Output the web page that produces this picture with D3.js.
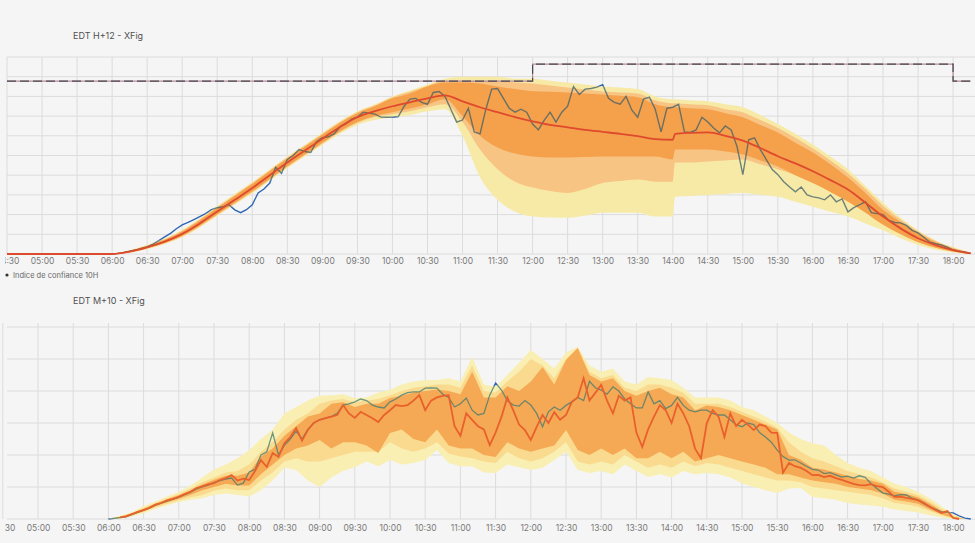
<!DOCTYPE html>
<html>
<head>
<meta charset="utf-8">
<script src="https://cdn.jsdelivr.net/npm/d3@7"></script>
<style>
  body { margin: 0; background: #f5f5f5; }
  svg { display: block; font-family: Inter, "Open Sans", sans-serif; }
</style>
</head>
<body>
<svg id="chart" width="975" height="543"></svg>
<script>
// ---- top panel : EDT H+12 ----
const topTimes = ["04:30","06:00","06:15","06:30","06:45","07:00","07:15","07:30","07:45","08:00","08:15","08:30","08:45",
  "09:00","09:15","09:30","09:45","10:00","10:15","10:30","10:45","11:00","11:15","11:30","11:45","12:00","12:15","12:30","12:45",
  "13:00","13:15","13:30","13:45","14:00","14:02","14:15","14:30","14:45","15:00","15:15","15:30","15:45","16:00","16:15","16:30",
  "16:45","17:00","17:15","17:30","17:45","18:00","18:15"];
const topMedian = [0, 0,1.2,3.4,6.3,10.2,15.5,21.6,27.5,33.5,40,46.5,52.5,58.5,64.5,69.5,72.5,75,77,79,80.5,77.5,74.5,72,69.5,67.3,65.5,64.3,63,62,61,59.8,58.3,
  58,61, 61.5,61.7,60,57.6,53.8,49.6,46,42,37.5,32.7,26,19,13,8,4.5,2,0.3];
const topP95 = [0, 0.3,2,4.7,7.9,12.3,18,24.4,30.5,36.5,43,49.5,55.5,61.5,67.5,72.5,76,80,83,86,89,90,90,90,89,89,88,87,86,85,84.5,83.7,80,
  78.6,78.6, 78,77.5,76,74.5,70.5,66,61,55.6,49.5,43,34.5,26,18.5,12,7,3.5,0.8];
const topP05 = [0, 0,0.6,2.4,5,8.5,13.5,19.3,25,30.8,37.2,43.5,49.5,55.3,61,65.5,68,69.4,70.5,72.4,73.5,60,39,27.5,21.4,19,18.5,18.4,19.5,21,21,21,19,
  19,29, 29.5,30,30.5,31,30,29,26.5,24,21.5,19,15.5,12,8,4.6,2.2,0.8,0];
const topP90 = [0, 0.2,1.8,4.3,7.5,11.8,17.5,23.9,30,36,42.5,49,55,61,67,72,75.5,79.6,82.4,85.4,88,88,88,88,87,86.5,85.5,84.5,83.5,82.5,82,81.5,78,
  76.5,76.5, 76,75.5,73.5,72,68,64,59,53.5,47.5,41,33,24.5,17.5,11.5,6.6,3.2,0.7];
const topP10 = [0, 0,0.8,2.8,5.4,8.9,14,19.8,25.5,31.3,37.7,44.1,50.1,56,61.8,66.5,69.5,71,72.5,74.5,76,67,53,43,36.7,33.7,32,31,33,36,37,37.8,36.7,
  36.7,46.4, 46.4,47,47.5,48,45.5,43,40,36,31.5,27,21.5,16,11,6.5,3.2,1.2,0.1];
const topP75 = [0, 0.1,1.6,4,7.2,11.4,17,23.4,29.5,35.5,42,48.5,54.5,60.5,66.5,71.5,75,79,81.5,85,87,87,86.5,85,83.7,82.6,82.3,82,81.5,81,80.3,79.6,76,
  74.5,74.5, 74,73.5,71.5,69.4,65.5,61.7,56.5,51.5,45.5,38.8,31,22.4,16.3,10.7,6,2.8,0.5];
const topP25 = [0, 0,0.9,3,5.6,9.3,14.4,20.2,26,31.8,38.2,44.5,50.5,56.5,62.3,67,70,72,73.8,76,78.6,70,60,54,51,49.5,49,49,49.2,49.5,49.5,49.5,49.5,
  48,53, 53,53,52,50.5,47.5,44.4,40,36,31.5,26.5,21,14.8,10,6,3.2,1.3,0.1];
// measured, every 5 minutes from 06:00
const topMeasured = [
  0,0.3,0.8,1.4,2,2.8,3.6,5,6.8,8.7,10.5,12.8,
  14.8,16,17.5,19,20.5,22.5,23.5,24,25,22.4,21,22.5,
  25,31,33,36,44,41,48,50,53,52,51.5,57,
  59,59.5,61,64.5,66,68.5,69.5,72,71.5,71,69.5,69.4,
  69.4,69.8,75,78.6,79,77,76,82,82.5,80,73.5,67,
  68,74,62,61,73.5,83.7,84,79,74,72,73.5,72,
  66,63,68,72,67,72,75,85,81,83.7,84,84.7,
  86,79,77,76,80,73,69.4,78.6,79.6,73.5,62,74,
  74.5,76,62,61.7,63,69.4,67,64,61.5,65,63,54.6,
  40.3,58,59,53,48,43,40.3,36.7,34,31.6,34,30,
  29,28.5,27.5,30,26.5,28,21.4,23.5,25,26.5,21,20.5,
  20,17,16,15.8,14.5,12,10.7,8.5,6,5.2,4.6,3.5,
  2,1.4,1,0.3];
const stepTimes = ["04:30","12:00","18:00","18:15"];
const stepValues = [87.8, 96.4, 87.8, 87.8];

// ---- bottom panel : EDT M+10 ----
const botForecast = [
  null,null,0.5,0.8,1.5,2.2,2.8,3.5,4.5,5,5.8,6.3,
  6.9,7.8,8.5,9.7,10.2,10.8,11.2,12.2,12.8,13.7,12,12.6,
  12.2,15,18.4,16.3,20.6,19.4,23.7,25.6,28.4,24.5,27.8,30,
  31,31.5,32,32.5,35.6,33,31.6,33.5,32.5,31.5,30.3,32.5,
  34,35.6,35.3,35.6,37,38.7,34,37,38,38.5,38.7,29,
  26,33,31,29,28,23.1,27,31.9,38,34,29.5,27.8,
  24.7,28.8,32.5,30,33.4,31,32.5,36.6,38,44,37,39.4,
  41.9,37,33,38.5,37,38,27,22.5,28,32,35.6,34,
  30,36,33,29,22,19,30,34,32,25.6,33,29,
  31,29.5,27.8,29.5,29,27,26.9,14.5,17.5,16.5,16,15,
  13.7,13.8,13.1,13.5,12.8,12.2,11.6,11,10.6,10.5,10.9,10.3,
  10,8.5,6.9,7,6.6,6.3,5.9,5,3.8,2.8,1.9,2.5,
  0.3,0,null,null];
const botMeasured = [
  0,0.2,0.4,0.7,1.4,2.1,2.8,3.4,4.3,5,5.6,6.2,
  6.8,7.6,8.4,9.4,10,10.6,11.4,12,12.5,12.8,10.6,11.2,
  14.7,15.5,20,21,26.9,20,23,25,27.5,25,28,30,
  31,31.5,32,33,35.6,36,36.6,37.5,37,35.6,35,34.7,
  36.6,37.5,38.7,39.5,39.7,39.7,40.9,41,40.9,39,38,35,
  36,37.8,34,32.5,33,38.7,42.5,40.3,37,35.6,35.3,37,
  35.6,33,28.8,33.5,35,34,35.5,36.6,38,37,43,41,
  40.3,39,41.3,40,37.5,36,34.7,34.7,39.7,36,37,34.5,
  35.5,38,35.5,34,33.5,34,34,33,32.5,32.5,31,29.5,
  28.8,30,29.5,27,25.6,24,21.5,19.5,18.4,18.5,17.5,16.5,
  15.5,15.3,14.2,14.5,13.8,13.1,13.4,12.8,13.5,13,11,9.5,
  8.1,7.8,7.2,7.6,7.5,6.5,5.9,4.8,3.8,3,2.2,2.1,
  1.9,1,0.3,0];
// bands, every 10 minutes from 06:00
const botP95 = [0,1,2.2,4,5.5,7, 8.5,10.5,13,15.5,17,19, 21.5,25,28,33,35,37, 38.5,38.7,39,37.8,38,39.5,
  40.3,42,43,43.4,43.4,44, 43,50.6,42,41.3,45,48.8, 52.8,50,47,52,53.8,48, 46,47,43,42,44.4,44,
  43.4,41,38,38,38,37, 35,34,32,30,27,25, 23.7,23,20,17.5,16,15, 13,11,10,8.5,6.5,4, 1.5,0];
const botP05 = [0,0,0.8,1.8,3.2,4.3, 5.3,6,6.5,7.5,8,7.5, 7,9,12,16,15.3,12, 10,13,15,16.2,18,16.5,
  18.4,17,17.5,18.4,21.6,17.5, 16.5,16.5,14.5,14.4,17,16.2, 15.3,16,18.4,21,15.3,14.4, 15,14,17,15,13.1,14,
  13,15,14,14.4,14,13, 11.2,10,9,8.1,9.5,9.7, 6.9,6.5,6,5,4.5,4.2, 3.8,3,2.5,2,1.2,0.5, 0,0];
const botP90 = [0,0.8,1.9,3.5,5,6.5, 7.8,9.5,11.5,13,14.5,15, 17,21,24,28,31,33, 36,37,37.5,36.5,37,37.5,
  38.7,40,41,41.5,42,42, 41,48,40,39.5,43,46, 50,48,44,50,53.5,46, 44,45,41,40,42,42,
  41,39.5,36,36,36,35, 33.5,32,30.5,28.5,24,21, 19,18,16.5,15,14,13, 11.5,9.5,8.5,7.5,5.5,3.2, 1,0];
const botP10 = [0,0.2,1.1,2.2,3.6,4.8, 5.8,6.8,7.5,8.8,9.5,9, 9,12,14.5,18,19,18, 18,19,20,21,21,21,
  24,22,21,22,24,20.5, 19.5,19,18,17.5,21,19, 18,19,21,24,18,17, 18,17,20,18,16,17,
  16,18,16.5,17.5,17,16, 15,14,13,12,12,11.5, 10,9.5,9,8.5,8,7.5, 6.5,5,4.5,3.8,2.5,1.2, 0.2,0];
const botP75 = [0,0.7,1.7,3.2,4.8,6.2, 7.4,9,10.8,12.3,13.5,13.5, 14.5,19.5,22,26,29,32, 33,36,36.5,35,36,36,
  37.8,38.5,39.5,40,40.5,40, 39,46,38,38,41.5,40, 43,47.5,42,49.7,53.4,45, 43,44,40,38.5,40,41,
  39,38,34,35.5,35,34, 32.5,31,29.5,28,20,18.5, 16,15.5,14.5,13.5,12.5,12, 11,8.5,7.8,6.8,4.8,2.6, 0.7,0];
const botP25 = [0,0.3,1.3,2.5,4,5.2, 6.3,7.6,9,10,11,10.5, 10.5,14,17,20,22,23, 24.7,22,24,24,23,20.6,
  26.9,28,25,24,28,23, 22,22,20,19.4,24,22, 21,22,23,27.8,21.6,20, 22,20,22,19,19,21,
  19,21,18,19,20,19, 18,17,16,14,14,13, 12,11.5,11,10,9.5,9, 8,6,5.5,4.8,3,1.5, 0.3,0];

const topGridValues = d3.range(0, 101, 10);
const botGridValues = d3.range(0, 61, 10);

// ---------------------------------------------------------------
const parse = d3.timeParse("%H:%M");
const fmt = d3.timeFormat("%H:%M");
const svg = d3.select("#chart");
const W = 975;

const measTimes = d3.range(topMeasured.length).map(i => d3.timeMinute.offset(parse("06:00"), 5 * i));
const botLineTimes = d3.range(botForecast.length).map(i => d3.timeMinute.offset(parse("06:00"), 5 * i));
const botBandTimes = d3.range(botP95.length).map(i => d3.timeMinute.offset(parse("06:00"), 10 * i));
const halfHours = d3.timeMinute.every(30).range(parse("04:30"), parse("18:01"));

// labels are cut at the left edge of the page container
svg.append("clipPath").attr("id", "labelClip").append("rect")
  .attr("x", 5).attr("y", 0).attr("width", W).attr("height", 543);

function panel(cfg) {
  const g = svg.append("g");
  const x = d3.scaleTime().domain([parse("04:30"), parse("18:15")]).range(cfg.xRange);
  const y = d3.scaleLinear().domain(cfg.yDomain).range([cfg.bottom, cfg.top]);

  // grid
  g.append("g").selectAll("line").data(halfHours).join("line")
    .attr("x1", d => x(d)).attr("x2", d => x(d))
    .attr("y1", cfg.top).attr("y2", cfg.bottom)
    .attr("stroke", "#dcdcdc").attr("stroke-width", 1);
  g.append("g").selectAll("line").data(cfg.gridValues).join("line")
    .attr("x1", 7).attr("x2", W)
    .attr("y1", d => y(d)).attr("y2", d => y(d))
    .attr("stroke", "#dcdcdc").attr("stroke-width", 1);

  // axis labels
  const axis = d3.axisBottom(x).tickValues(halfHours).tickFormat(fmt).tickSize(0).tickPadding(cfg.labelPad);
  const ax = g.append("g").attr("clip-path", "url(#labelClip)")
    .append("g").attr("transform", `translate(0,${cfg.bottom})`).call(axis);
  ax.select(".domain").remove();
  ax.selectAll("text").attr("fill", "#7a7a7a").style("font-size", "8.5px").style("font-family", "Inter, sans-serif");

  // title
  g.append("text").attr("x", 73).attr("y", cfg.titleY)
    .attr("fill", "#505050").style("font-size", "9px").text(cfg.title);

  const clipId = "clip" + cfg.id;
  svg.append("clipPath").attr("id", clipId).append("rect")
    .attr("x", 7).attr("y", cfg.top - 4).attr("width", W - 7).attr("height", cfg.bottom - cfg.top + 6);
  const plot = g.append("g").attr("clip-path", `url(#${clipId})`);
  return { x, y, plot };
}

// ---------------- top panel ----------------
{
  const { x, y, plot } = panel({ id: "top", xRange: [7, 970.6], yDomain: [0, 100], top: 57, bottom: 254,
    gridValues: topGridValues, labelPad: 4, title: "EDT H+12 - XFig", titleY: 39 });
  const tt = topTimes.map(parse);
  const band = (lo, hi) => d3.area().curve(d3.curveMonotoneX)
    .x((d, i) => x(tt[i])).y0((d, i) => y(lo[i])).y1((d, i) => y(hi[i]));
  const measLine = d3.line().x((d, i) => x(measTimes[i])).y(d => y(d));

  plot.append("path").datum(topMeasured).attr("d", measLine)
    .attr("fill", "none").attr("stroke", "#2f66b3").attr("stroke-width", 1.4);
  plot.append("path").datum(tt).attr("d", band(topP05, topP95)).attr("fill", "#f7eaa7");
  plot.append("path").datum(tt).attr("d", band(topP10, topP90)).attr("fill", "#f8c483");
  plot.append("path").datum(tt).attr("d", band(topP25, topP75)).attr("fill", "#f5a04b");

  // measured line seen through the bands
  svg.append("clipPath").attr("id", "topBandClip").append("path").datum(tt).attr("d", band(topP05, topP95));
  plot.append("g").attr("clip-path", "url(#topBandClip)")
    .append("path").datum(topMeasured).attr("d", measLine)
    .attr("fill", "none").attr("stroke", "#3d5f6a").attr("stroke-width", 1.4).attr("stroke-opacity", 0.75);

  // step line
  const st = stepTimes.map(parse);
  const stepLine = d3.line().curve(d3.curveStepAfter).x((d, i) => x(st[i])).y(d => y(d));
  plot.append("path").datum(stepValues).attr("d", stepLine)
    .attr("fill", "none").attr("stroke", "#b88a96").attr("stroke-width", 1.2);
  plot.append("path").datum(stepValues).attr("d", stepLine)
    .attr("fill", "none").attr("stroke", "#4a4a52").attr("stroke-width", 1.2).attr("stroke-dasharray", "9,4");

  // median forecast
  plot.append("path").datum(topMedian)
    .attr("d", d3.line().curve(d3.curveMonotoneX).x((d, i) => x(tt[i])).y(d => y(d)))
    .attr("fill", "none").attr("stroke", "#de4a2e").attr("stroke-width", 1.8);

  // legend
  svg.append("circle").attr("cx", 7).attr("cy", 275).attr("r", 1.6).attr("fill", "#333");
  svg.append("text").attr("x", 13).attr("y", 278).attr("fill", "#666")
    .style("font-size", "7.5px").text("Indice de confiance 10H");
}

// ---------------- bottom panel ----------------
{
  const { x, y, plot } = panel({ id: "bot", xRange: [2.8, 970.8], yDomain: [0, 61.25], top: 323, bottom: 519,
    gridValues: botGridValues, labelPad: 6, title: "EDT M+10 - XFig", titleY: 304 });
  const band = (lo, hi) => d3.area()
    .x((d, i) => x(botBandTimes[i])).y0((d, i) => y(lo[i])).y1((d, i) => y(hi[i]));
  const line = d3.line().defined(d => d !== null).x((d, i) => x(botLineTimes[i])).y(d => y(d));

  plot.append("path").datum(botMeasured).attr("d", line)
    .attr("fill", "none").attr("stroke", "#2f66b3").attr("stroke-width", 1.3);
  plot.append("path").datum(botBandTimes).attr("d", band(botP05, botP95)).attr("fill", "#f9efb3");
  plot.append("path").datum(botBandTimes).attr("d", band(botP10, botP90)).attr("fill", "#f9da8e");
  plot.append("path").datum(botBandTimes).attr("d", band(botP25, botP75)).attr("fill", "#f6a954");

  svg.append("clipPath").attr("id", "botBandClip").append("path").datum(botBandTimes).attr("d", band(botP05, botP95));
  plot.append("g").attr("clip-path", "url(#botBandClip)")
    .append("path").datum(botMeasured).attr("d", line)
    .attr("fill", "none").attr("stroke", "#3f7a72").attr("stroke-width", 1.3).attr("stroke-opacity", 0.75);

  plot.append("path").datum(botForecast).attr("d", line)
    .attr("fill", "none").attr("stroke", "#e8612c").attr("stroke-width", 1.8);
}
</script>
</body>
</html>
